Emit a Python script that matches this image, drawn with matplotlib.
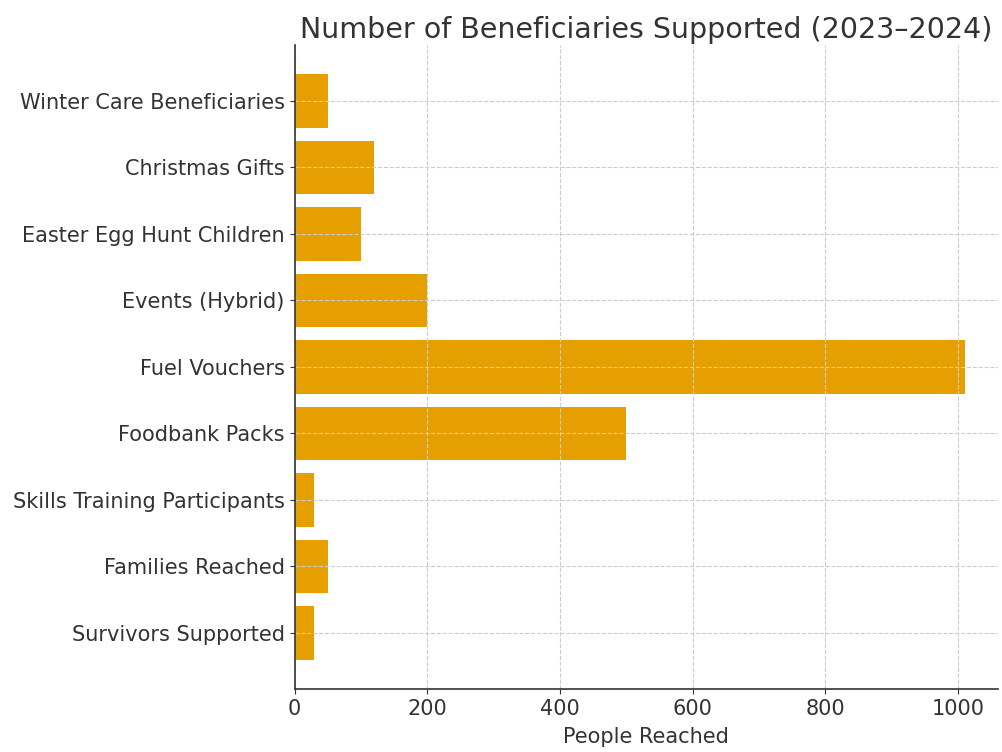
import numpy as np
import matplotlib.pyplot as plt

# categories (top to bottom) and values
categories = ['Winter Care Beneficiaries', 'Christmas Gifts', 'Easter Egg Hunt Children',
              'Events (Hybrid)', 'Fuel Vouchers', 'Foodbank Packs',
              'Skills Training Participants', 'Families Reached', 'Survivors Supported']
people = [50, 120, 100, 200, 1010, 500, 30, 50, 30]

fig = plt.figure(figsize=(10.02, 7.52), dpi=100)
ax = fig.add_axes([0.294, 0.084, 0.702, 0.856])

ax.barh(categories[::-1], people[::-1], color='#E69F00')
ax.set_xlim(0, 1060)
ax.set_title('Number of Beneficiaries Supported (2023\u20132024)', fontsize=20.5, color='#333333', pad=5)
ax.set_xlabel('People Reached', fontsize=15, color='#333333', labelpad=6)
ax.tick_params(labelsize=15, colors='#333333')
ax.set_axisbelow(False)
ax.grid(True, linestyle='--', color='#cccccc', linewidth=0.8)
ax.spines['top'].set_visible(False)
ax.spines['right'].set_visible(False)
for s in ['left', 'bottom']:
    ax.spines[s].set_color('#333333')
    ax.spines[s].set_linewidth(1.2)
    ax.spines[s].set_zorder(5)

plt.savefig('out.png')
plt.close()
